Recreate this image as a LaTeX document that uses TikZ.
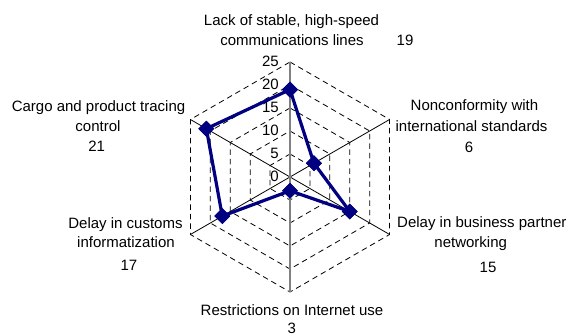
\documentclass[tikz,border=0pt]{standalone}
\usepackage{fontspec}
\setmainfont{Liberation Sans}
\usetikzlibrary{shapes.geometric}
\definecolor{navy}{RGB}{0,0,128}
\definecolor{axisgray}{RGB}{128,128,128}
\tikzset{
  gridring/.style={draw=black, line width=0.8pt, dash pattern=on 5.5pt off 4pt},
  spoke/.style={draw=black, line width=0.8pt},
  valaxis/.style={draw=axisgray, line width=1.4pt},
  series/.style={draw=navy, line width=3.2pt, line join=round},
  mk/.style={diamond, fill=navy, draw=none, inner sep=0pt, minimum width=16pt, minimum height=16pt},
  lbl/.style={anchor=base, inner sep=0pt},
  vlbl/.style={anchor=east, inner sep=0pt},
}
\begin{document}
\begin{tikzpicture}[x=1pt,y=1pt,font=\fontsize{15}{18}\selectfont]
\useasboundingbox (0,0) rectangle (567,336);
\begin{scope}[shift={(290,159)}]
  \foreach \r in {23,46,69,92,115}
    \draw[gridring] (90:\r) -- (30:\r) -- (-30:\r) -- (-90:\r) -- (210:\r) -- (150:\r) -- cycle;
  \coordinate (O) at (0,0);
  \foreach \a/\n in {90/a1,30/a2,-30/a3,-90/a4,210/a5,150/a6}
    \coordinate (\n) at (\a:115);
  \foreach \n in {a2,a3,a5,a6}
    \draw[spoke] (O) -- (\n);
  \draw[valaxis] (a4) -- (a1);
  % value labels
  \foreach \v [count=\i from 0] in {0,5,10,15,20,25}
    \node[vlbl] (v\i) at (-11,{23*\i+1}) {\v};
  % data markers
  \node[mk] (m1) at (90:{19*4.6}) {};
  \node[mk] (m2) at (30:{6*4.6}) {};
  \node[mk] (m3) at (-30:{15*4.6}) {};
  \node[mk] (m4) at (-90:{3*4.6}) {};
  \node[mk] (m5) at (210:{17*4.6}) {};
  \node[mk] (m6) at (150:{21*4.6}) {};
  \draw[series] (m1.center) -- (m2.center) -- (m3.center) -- (m4.center) -- (m5.center) -- (m6.center) -- cycle;
  \foreach \n in {m1,m2,m3,m4,m5,m6}
    \node[mk] at (\n.center) {};
\end{scope}
% category labels
\node[lbl] (t1) at (291.5,310) {Lack of stable, high-speed};
\node[lbl] (t2) at (292,290.3) {communications lines};
\node[lbl] (t3) at (405,290.3) {19};
\node[lbl] (n1) at (474.5,225.3) {Nonconformity with};
\node[lbl] (n2) at (471.5,204.3) {international standards};
\node[lbl] (n3) at (469,183.3) {6};
\node[anchor=base west, inner sep=0pt] (b1) at (397,108.3) {Delay in business partner};
\node[lbl] (b2) at (470.7,88) {networking};
\node[lbl] (b3) at (488,63) {15};
\node[lbl] (r1) at (292,20.3) {Restrictions on Internet use};
\node[lbl] (r2) at (291.7,2) {3};
\node[lbl] (c1) at (125.5,107.7) {Delay in customs};
\node[lbl] (c2) at (126,88) {informatization};
\node[lbl] (c3) at (129,65.3) {17};
\node[lbl] (g1) at (98.5,224.3) {Cargo and product tracing};
\node[lbl] (g2) at (98,204.3) {control};
\node[lbl] (g3) at (96.7,184.3) {21};
\end{tikzpicture}
\end{document}
